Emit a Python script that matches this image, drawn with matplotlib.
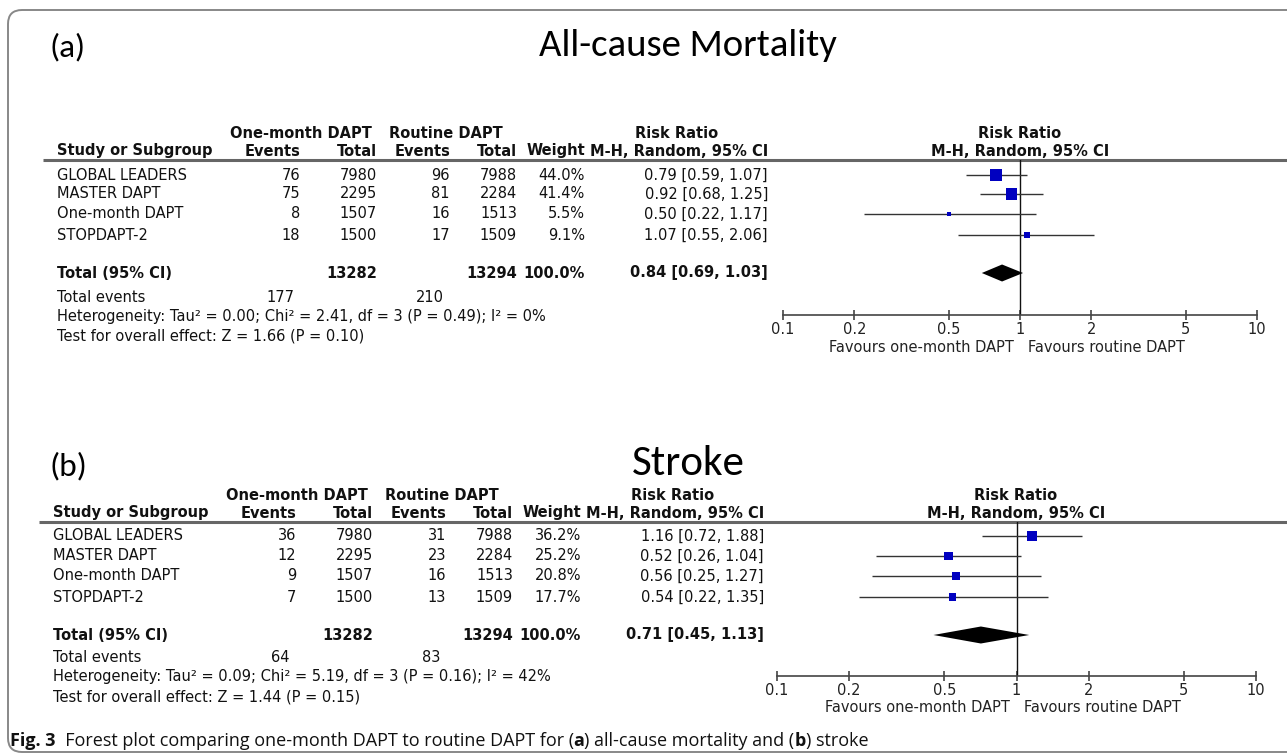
import matplotlib
matplotlib.use("Agg")
import matplotlib.pyplot as plt
from matplotlib.patches import FancyBboxPatch
from matplotlib.ticker import NullLocator

# data
studies = ["GLOBAL LEADERS", "MASTER DAPT", "One-month DAPT", "STOPDAPT-2"]
total_one = [7980, 2295, 1507, 1500]
total_routine = [7988, 2284, 1513, 1509]

mort_events_one = [76, 75, 8, 18]
mort_events_routine = [96, 81, 16, 17]
mort_weight = [44.0, 41.4, 5.5, 9.1]
mort_rr = [0.79, 0.92, 0.50, 1.07]
mort_lo = [0.59, 0.68, 0.22, 0.55]
mort_hi = [1.07, 1.25, 1.17, 2.06]
mort_pooled = [0.84, 0.69, 1.03]
mort_sum_events = [177, 210]
mort_het = "Heterogeneity: Tau² = 0.00; Chi² = 2.41, df = 3 (P = 0.49); I² = 0%"
mort_test = "Test for overall effect: Z = 1.66 (P = 0.10)"

stroke_events_one = [36, 12, 9, 7]
stroke_events_routine = [31, 23, 16, 13]
stroke_weight = [36.2, 25.2, 20.8, 17.7]
stroke_rr = [1.16, 0.52, 0.56, 0.54]
stroke_lo = [0.72, 0.26, 0.25, 0.22]
stroke_hi = [1.88, 1.04, 1.27, 1.35]
stroke_pooled = [0.71, 0.45, 1.13]
stroke_sum_events = [64, 83]
stroke_het = "Heterogeneity: Tau² = 0.09; Chi² = 5.19, df = 3 (P = 0.16); I² = 42%"
stroke_test = "Test for overall effect: Z = 1.44 (P = 0.15)"

ticks = [0.1, 0.2, 0.5, 1, 2, 5, 10]
tick_labels = ["0.1", "0.2", "0.5", "1", "2", "5", "10"]

W, H = 1287, 755
TFONT = "DejaVu Sans"
TSIZE = 10.5
TITLEFONT = ["Carlito", "Open Sans", "DejaVu Sans"]
CAPFONT = ["Open Sans", "DejaVu Sans"]

fig = plt.figure(figsize=(W / 100, H / 100), dpi=100)
bg = fig.add_axes([0, 0, 1, 1])
bg.set_xlim(0, W)
bg.set_ylim(H, 0)
bg.axis("off")

frame = FancyBboxPatch((8, 10), 1330, 742, boxstyle="round,pad=0,rounding_size=14",
                       fc="white", ec="#888888", lw=1.4)
bg.add_patch(frame)


def t(x, y, s, ha="left", bold=False, size=TSIZE, family=TFONT):
    bg.text(x, y, s, ha=ha, va="center", fontsize=size, family=family,
            fontweight="bold" if bold else "normal", color="#111111")


def panel(label, title, title_y, title_size, hy, rows, total_y, ev_y, events_one, events_routine,
          weight, rr, lo, hi, pooled, sum_events, het, test, fx0, fx1, axis_y, one_x, dx):
    # titles
    bg.text(50, title_y, label, ha="left", va="baseline", fontsize=24, family=TITLEFONT)
    bg.text(688, title_y, title, ha="center", va="baseline", fontsize=title_size, family=TITLEFONT)

    left = 57 + dx
    c_ev1, c_tot1, c_ev2, c_tot2, c_w, c_ci = [c + dx for c in (300, 377, 450, 517, 585, 768)]
    line_y = hy + 27
    # headers
    t(301 + dx, hy, "One-month DAPT", ha="center", bold=True)
    t(446 + dx, hy, "Routine DAPT", ha="center", bold=True)
    t(677 + dx, hy, "Risk Ratio", ha="center", bold=True)
    t(one_x, hy, "Risk Ratio", ha="center", bold=True)
    y2 = hy + 18
    t(left, y2, "Study or Subgroup", bold=True)
    t(c_ev1, y2, "Events", ha="right", bold=True)
    t(c_tot1, y2, "Total", ha="right", bold=True)
    t(c_ev2, y2, "Events", ha="right", bold=True)
    t(c_tot2, y2, "Total", ha="right", bold=True)
    t(c_w, y2, "Weight", ha="right", bold=True)
    t(c_ci, y2, "M-H, Random, 95% CI", ha="right", bold=True)
    t(one_x, y2, "M-H, Random, 95% CI", ha="center", bold=True)
    bg.plot([left - 14, W], [line_y, line_y], color="#666666", lw=2.2, solid_capstyle="butt")

    for i, name in enumerate(studies):
        y = rows[i]
        t(left, y, name)
        t(c_ev1, y, str(events_one[i]), ha="right")
        t(c_tot1, y, str(total_one[i]), ha="right")
        t(c_ev2, y, str(events_routine[i]), ha="right")
        t(c_tot2, y, str(total_routine[i]), ha="right")
        t(c_w, y, f"{weight[i]:.1f}%", ha="right")
        t(c_ci, y, f"{rr[i]:.2f} [{lo[i]:.2f}, {hi[i]:.2f}]", ha="right")

    t(left, total_y, "Total (95% CI)", bold=True)
    t(c_tot1, total_y, str(sum(total_one)), ha="right", bold=True)
    t(c_tot2, total_y, str(sum(total_routine)), ha="right", bold=True)
    t(c_w, total_y, "100.0%", ha="right", bold=True)
    t(c_ci, total_y, f"{pooled[0]:.2f} [{pooled[1]:.2f}, {pooled[2]:.2f}]", ha="right", bold=True)
    t(left, ev_y, "Total events")
    t(c_ev1 - 6, ev_y, str(sum_events[0]), ha="right")
    t(c_ev2 - 6, ev_y, str(sum_events[1]), ha="right")
    t(left, ev_y + 19, het)
    t(left, ev_y + 39, test)

    # forest plot
    ax = fig.add_axes([fx0 / W, 1 - axis_y / H, (fx1 - fx0) / W, (axis_y - line_y) / H])
    ax.set_facecolor("none")
    ax.set_xscale("log")
    ax.set_xlim(0.1, 10)
    ax.set_ylim(axis_y, line_y)
    for side in ["top", "right", "left"]:
        ax.spines[side].set_visible(False)
    ax.spines["bottom"].set_color("#444444")
    ax.spines["bottom"].set_linewidth(1.2)
    ax.set_yticks([])
    ax.set_xticks(ticks)
    ax.set_xticklabels(tick_labels, fontsize=TSIZE, family=TFONT, color="#222222")
    ax.xaxis.set_minor_locator(NullLocator())
    ax.tick_params(axis="x", direction="inout", length=7, width=1.2, color="#444444", pad=1.5)
    ax.axvline(1, color="#111111", lw=1)

    ax.hlines(rows, lo, hi, color="#333333", lw=1)
    sizes = [(1.75 * w ** 0.5 * 0.72) ** 2 for w in weight]
    ax.scatter(rr, rows, marker="s", s=sizes, color="#0000c0", zorder=3, linewidths=0)
    est, plo, phi = pooled
    ax.fill([plo, est, phi, est], [total_y, total_y - 8.5, total_y, total_y + 8.5],
            color="black", zorder=3, lw=0)

    bg.text(one_x - 6, axis_y + 32, "Favours one-month DAPT", ha="right", va="center",
            fontsize=TSIZE, family=TFONT, color="#222222")
    bg.text(one_x + 8, axis_y + 32, "Favours routine DAPT", ha="left", va="center",
            fontsize=TSIZE, family=TFONT, color="#222222")


panel("(a)", "All-cause Mortality", 56, 28, 133, [175, 194, 214, 235], 273, 297,
      mort_events_one, mort_events_routine, mort_weight, mort_rr, mort_lo, mort_hi,
      mort_pooled, mort_sum_events, mort_het, mort_test, 783, 1257, 315, 1020, 0)
panel("(b)", "Stroke", 475, 31, 495, [536, 556, 576, 597], 635, 658,
      stroke_events_one, stroke_events_routine, stroke_weight, stroke_rr, stroke_lo, stroke_hi,
      stroke_pooled, stroke_sum_events, stroke_het, stroke_test, 777, 1256, 676, 1016, -4)

# caption with bold pieces
renderer = fig.canvas.get_renderer()
pieces = [("Fig. 3", True), ("  Forest plot comparing one-month DAPT to routine DAPT for (", False),
          ("a", True), (") all-cause mortality and (", False), ("b", True), (") stroke", False)]
x = 10
for s, b in pieces:
    txt = bg.text(x, 746, s, ha="left", va="baseline", fontsize=13, family=CAPFONT,
                  fontweight="bold" if b else "normal", color="#111111")
    bb = txt.get_window_extent(renderer=renderer)
    x += bb.width

fig.savefig("out.png", dpi=100)
